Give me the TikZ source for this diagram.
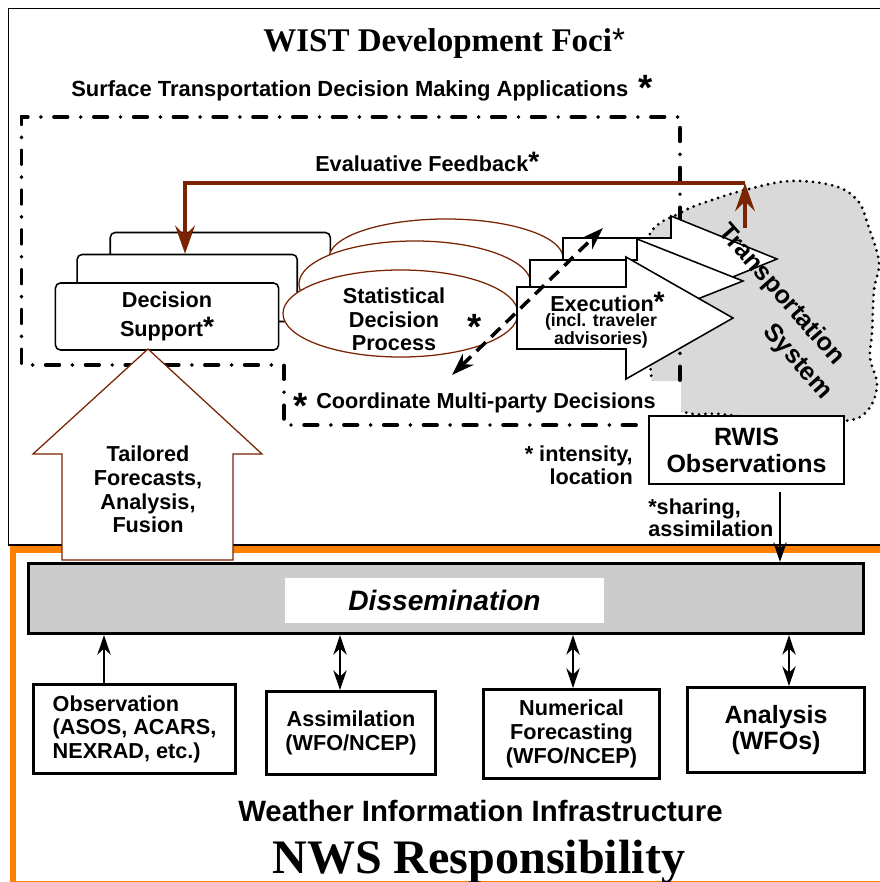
\documentclass[tikz,border=0pt]{standalone}
\usepackage{fontspec}
\setmainfont{Liberation Serif}
\setsansfont{Liberation Sans}
\usetikzlibrary{arrows.meta,shapes.geometric}

\definecolor{fbbrown}{RGB}{122,36,4}
\definecolor{nwsorange}{RGB}{255,128,0}
\definecolor{bargray}{RGB}{204,204,204}
\definecolor{cloudgray}{RGB}{217,217,217}

\newcommand{\sast}{{\fontsize{20}{20}\selectfont *}}

\tikzset{
	txt/.style={font=\sffamily\bfseries\fontsize{15.4}{17}\selectfont,inner sep=0pt},
	bigast/.style={font=\sffamily\bfseries\fontsize{26}{26}\selectfont,inner sep=0pt,anchor=north},
	dsbox/.style={draw=black,fill=white,line width=1.1pt,rounded corners=3.5pt,minimum width=5.5cm,minimum height=1.675cm,inner sep=0pt},
	sdp/.style={ellipse,draw=fbbrown,fill=white,line width=0.9pt,inner sep=0pt},
	execarr/.style={draw=black,fill=white,line width=1.1pt},
	infobox/.style={draw=black,fill=white,line width=2.1pt,inner sep=0pt,font=\sffamily\bfseries\fontsize{15.4}{17}\selectfont},
	thinarr/.style={line width=1.1pt,-{Stealth[length=14pt,width=9.5pt,inset=4.5pt]}},
	twoarr/.style={line width=1.1pt,{Stealth[length=14pt,width=9.5pt,inset=4.5pt]}-{Stealth[length=14pt,width=9.5pt,inset=4.5pt]}},
	fbarr/.style={draw=fbbrown,line width=2.8pt,-{Stealth[length=20pt,width=14pt,inset=7pt]}},
	dasharr/.style={line width=2.5pt,dash pattern=on 9pt off 5.5pt,{Stealth[length=16pt,width=11pt,inset=5pt]}-{Stealth[length=16pt,width=11pt,inset=5pt]}},
	dashdot/.style={line width=2.8pt,line cap=round,dash pattern=on 9.5pt off 9.4pt on 0pt off 9.4pt},
}

\begin{document}
\begin{tikzpicture}[x=0.025cm,y=-0.025cm]
	\useasboundingbox (0,0) rectangle (880,882);
	\draw[line width=1.4pt] (8.5,8.5) rectangle (900,545);
	\draw[nwsorange,line width=4.3pt] (13.3,549.5) rectangle (900,884);
	%
	\node[anchor=base west,inner sep=0pt,font=\rmfamily\bfseries\fontsize{23.5}{26}\selectfont] (wist) at (263,51.7) {WIST Development Foci{\sffamily\mdseries *}};
	\node[txt,anchor=base west,font=\sffamily\bfseries\fontsize{15.6}{17}\selectfont] (stdm) at (71,96.5) {Surface Transportation Decision Making Applications};
	\node[bigast] (ast1) at (646,75) {*};
	\node[txt,anchor=base west] (evfb) at (315,171.5) {Evaluative Feedback\sast};
	%
	\path[fill=cloudgray,draw=black,line width=2.2pt,dash pattern=on 0pt off 4.6pt,line cap=round] plot[smooth cycle,tension=0.6] coordinates {(649,236) (682,212) (712,200) (745,190) (790,181) (835,186) (858,201) (868,225) (879,262) (874,290) (872,333) (870,358) (877,385) (868,410) (845,421) (780,421) (720,414) (688,413) (655,395) (648,300)};
	\fill[white] (600,381) rectangle (681,423);
	\draw[dashdot] (680,380) -- (680,117) -- (21.5,117) -- (21.5,365) -- (284,365) -- (284,425) -- (648,425);
	%
	\node[dsbox] (ds3) at (220.3,266) {};
	\node[dsbox] (ds2) at (187.2,288) {};
	\node[dsbox,minimum width=5.575cm,align=center,font=\sffamily\bfseries\fontsize{15.4}{20.6}\selectfont] (ds1) at (167,316.5) {Decision\\Support\sast};
	%
	\node[sdp,minimum width=5.85cm,minimum height=1.95cm] (sdp3) at (446,258) {};
	\node[sdp,minimum width=5.8cm,minimum height=2.15cm] (sdp2) at (415,284) {};
	\node[sdp,minimum width=5.875cm,minimum height=2.175cm] (sdp1) at (400.5,313.5) {};
	\node[txt,align=center,font=\sffamily\bfseries\fontsize{15.4}{16.7}\selectfont] (sdpt) at (394,319.7) {Statistical\\Decision\\Process};
	\node[bigast] (ast2) at (475,314) {*};
	%
	\filldraw[execarr] (563,238) -- (671,238) -- (671,216) -- (777,259) -- (671,302) -- (671,280) -- (563,280) -- cycle;
	\filldraw[execarr] (530,260) -- (637,260) -- (637,239) -- (743,281) -- (637,323) -- (637,302) -- (530,302) -- cycle;
	\filldraw[execarr] (517,287) -- (626,287) -- (626,257) -- (733,318) -- (626,379) -- (626,349) -- (517,349) -- cycle;
	\node[txt,anchor=base] (exe) at (602,311) {Execution\rlap{\sast}};
	\node[txt,align=center,font=\sffamily\bfseries\fontsize{12.6}{12.8}\selectfont] (exesub) at (601,331.4) {(incl. traveler\\advisories)};
	%
	\node[txt,font=\sffamily\bfseries\fontsize{18}{20}\selectfont,rotate=-48.7] (ts1) at (781,295) {Transportation};
	\node[txt,font=\sffamily\bfseries\fontsize{18}{20}\selectfont,rotate=-48.7] (ts2) at (797,362) {System};
	%
	\coordinate (fbR) at (745,183);
	\coordinate (clTop) at (745,228);
	\draw[fbarr] (fbR) -- (185,183) -- (ds2.north -| 185,0);
	\draw[fbarr] (clTop) -- (fbR);
	%
	\coordinate (daLow) at (452,375);
	\coordinate (daUp) at (603,228);
	\draw[dasharr] (daLow) -- (daUp);
	%
	\node[bigast] (ast3) at (301,393) {*};
	\node[txt,anchor=base west] (cmpd) at (316,408) {Coordinate Multi-party Decisions};
	%
	\node[draw=black,fill=white,line width=1.4pt,minimum width=4.875cm,minimum height=1.7cm,inner sep=0pt,align=center,font=\sffamily\bfseries\fontsize{17.8}{19.2}\selectfont] (rwis) at (746.5,450) {RWIS\\Observations};
	\node[txt,align=right,anchor=east,font=\sffamily\bfseries\fontsize{15.4}{16.3}\selectfont] (intl) at (633,465.7) {* intensity,\\location};
	\node[txt,align=left,anchor=west,font=\sffamily\bfseries\fontsize{15.4}{15.6}\selectfont] (shas) at (648,518.2) {*sharing,\\assimilation};
	%
	\filldraw[draw=fbbrown,fill=white,line width=0.9pt] (62,560) -- (62,454) -- (33,454) -- (148,349) -- (262,454) -- (233,454) -- (233,560) -- cycle;
	\node[txt,align=center,font=\sffamily\bfseries\fontsize{15.4}{16.8}\selectfont] (tfaf) at (148,489.5) {Tailored\\Forecasts,\\Analysis,\\Fusion};
	%
	\node[draw=black,fill=bargray,line width=2.2pt,minimum width=20.86cm,minimum height=1.75cm,inner sep=0pt] (disbar) at (445.75,598.5) {};
	\node[fill=white,minimum width=7.975cm,minimum height=1.125cm,inner sep=0pt,font=\sffamily\bfseries\itshape\fontsize{20}{22}\selectfont] (dis) at (444.5,600.5) {Dissemination};
	\draw[thinarr,shorten <=5pt] (rwis.south -| 780,0) -- (disbar.north -| 780,0);
	%
	\node[infobox,minimum width=5.05cm,minimum height=2.225cm,align=left,font=\sffamily\bfseries\fontsize{15.4}{16.7}\selectfont] (obs) at (134.5,729) {Observation\\(ASOS, ACARS,\\NEXRAD, etc.)};
	\node[infobox,minimum width=4.225cm,minimum height=2.075cm,align=center] (asm) at (351,733) {Assimilation\\(WFO/NCEP)};
	\node[infobox,minimum width=4.4cm,minimum height=2.225cm,align=center] (nfc) at (571.5,734) {Numerical\\Forecasting\\(WFO/NCEP)};
	\node[infobox,minimum width=4.425cm,minimum height=2.125cm,align=center,font=\sffamily\bfseries\fontsize{17.8}{18.4}\selectfont] (ana) at (776,730) {Analysis\\(WFOs)};
	%
	\draw[thinarr] (obs.north -| 104,0) -- (disbar.south -| 104,0);
	\draw[twoarr] (asm.north -| 340,0) -- (disbar.south -| 340,0);
	\draw[twoarr] (nfc.north -| 573,0) -- (disbar.south -| 573,0);
	\draw[twoarr] (ana.north -| 789,0) -- (disbar.south -| 789,0);
	%
	\node[txt,anchor=base west,font=\sffamily\bfseries\fontsize{20.9}{22}\selectfont] (wii) at (238,821.5) {Weather Information Infrastructure};
	\node[anchor=base west,inner sep=0pt,font=\rmfamily\bfseries\fontsize{34.2}{36}\selectfont] (nws) at (272,873) {NWS Responsibility};
\end{tikzpicture}
\end{document}
